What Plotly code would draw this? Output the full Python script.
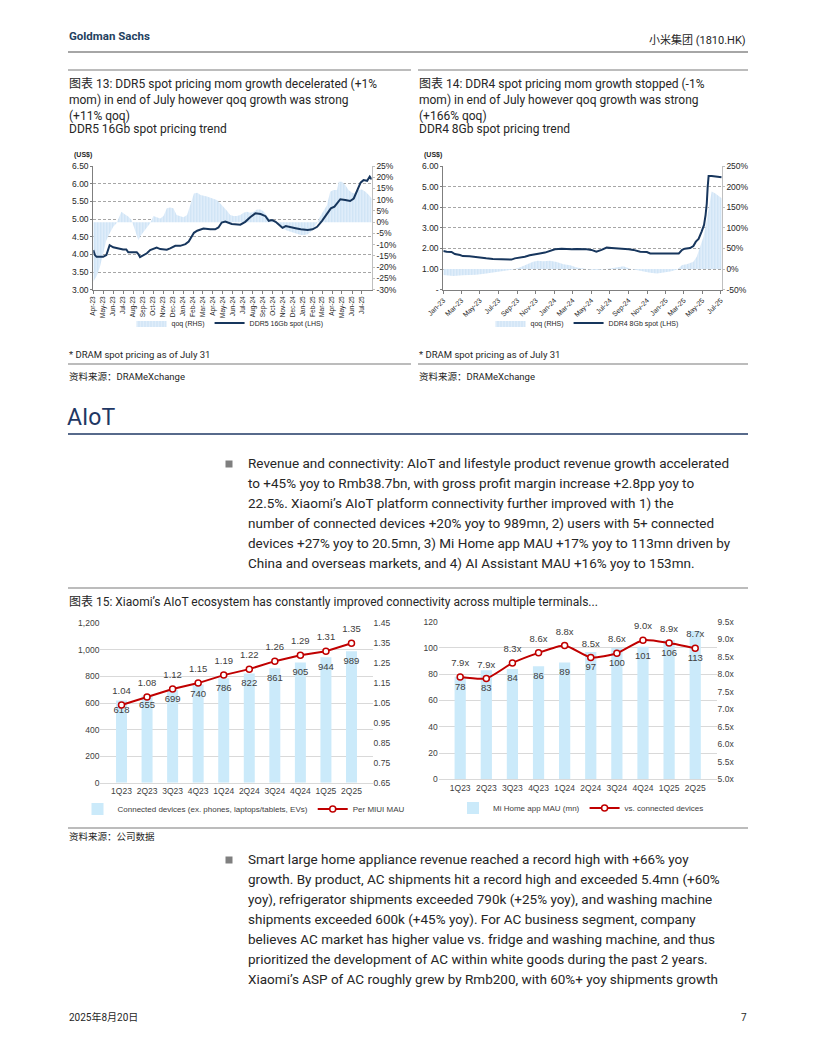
import plotly.graph_objects as go
import pandas as pd

W, H = 816, 1056


def px(x):
    return x / W


def py(y):
    return 1 - y / H


CHART_FONT = "Liberation Sans, Arial, sans-serif"
PAGE_FONT = "Roboto, Noto Sans CJK SC, sans-serif"

# ---------------- DDR5 16Gb spot (chart 13) ----------------
ddr5_tick_labels = ["Apr-23", "May-23", "Jun-23", "Jul-23", "Aug-23", "Sep-23", "Oct-23", "Nov-23",
                    "Dec-23", "Jan-24", "Feb-24", "Mar-24", "Apr-24", "May-24", "Jun-24", "Jul-24",
                    "Aug-24", "Sep-24", "Oct-24", "Nov-24", "Dec-24", "Jan-25", "Feb-25", "Mar-25",
                    "Apr-25", "May-25", "Jun-25", "Jul-25"]
ddr5_price_dates = ["2023-04-01", "2023-04-06", "2023-04-11", "2023-05-01", "2023-05-11", "2023-05-19",
                    "2023-05-21", "2023-06-01", "2023-06-16", "2023-07-01", "2023-07-11", "2023-07-17",
                    "2023-08-12", "2023-08-17", "2023-08-22", "2023-08-27", "2023-09-12", "2023-09-22",
                    "2023-10-02", "2023-10-12", "2023-10-23", "2023-11-12", "2023-11-22", "2023-12-08",
                    "2023-12-23", "2024-01-08", "2024-01-18", "2024-01-23", "2024-02-03", "2024-02-13",
                    "2024-02-23", "2024-03-03", "2024-03-24", "2024-04-08", "2024-04-18", "2024-04-28",
                    "2024-05-09", "2024-05-19", "2024-05-29", "2024-06-24", "2024-07-09", "2024-07-24",
                    "2024-08-09", "2024-08-25", "2024-09-09", "2024-09-19", "2024-09-29", "2024-10-10",
                    "2024-10-20", "2024-10-31", "2024-11-10", "2024-11-25", "2024-12-10", "2024-12-26",
                    "2025-01-16", "2025-01-31", "2025-02-14", "2025-03-01", "2025-03-16", "2025-03-28",
                    "2025-04-08", "2025-04-16", "2025-04-26", "2025-05-11", "2025-05-26", "2025-06-06",
                    "2025-06-16", "2025-06-27", "2025-07-06", "2025-07-17", "2025-07-25", "2025-07-31"]
ddr5_price = [4.12, 3.98, 3.93, 3.93, 3.98, 4.22, 4.26, 4.20, 4.16, 4.14, 4.14, 4.06,
              4.06, 4.01, 3.92, 3.95, 4.03, 4.12, 4.15, 4.19, 4.15, 4.13, 4.17, 4.24,
              4.24, 4.29, 4.36, 4.45, 4.61, 4.67, 4.71, 4.73, 4.71, 4.71, 4.76, 4.90,
              4.93, 4.90, 4.86, 4.84, 4.92, 5.05, 5.16, 5.14, 5.08, 4.95, 4.97, 4.92,
              4.83, 4.75, 4.80, 4.78, 4.74, 4.71, 4.69, 4.71, 4.78, 4.95, 5.16, 5.30,
              5.35, 5.44, 5.56, 5.54, 5.51, 5.58, 5.82, 6.03, 6.10, 6.08, 6.20, 6.12]
ddr5_qoq_dates = ["2023-04-01", "2023-04-11", "2023-04-21", "2023-05-01", "2023-05-11", "2023-05-21",
                  "2023-06-01", "2023-06-11", "2023-06-21", "2023-06-26", "2023-07-06", "2023-07-17",
                  "2023-07-27", "2023-08-03", "2023-08-12", "2023-08-17", "2023-08-22", "2023-09-01",
                  "2023-09-12", "2023-09-22", "2023-10-02", "2023-10-12", "2023-10-23", "2023-11-02",
                  "2023-11-12", "2023-11-22", "2023-12-02", "2023-12-12", "2023-12-23", "2024-01-02",
                  "2024-01-13", "2024-01-23", "2024-02-03", "2024-02-13", "2024-02-23", "2024-03-14",
                  "2024-04-03", "2024-04-13", "2024-04-23", "2024-05-04", "2024-05-14", "2024-05-24",
                  "2024-06-03", "2024-06-13", "2024-06-24", "2024-07-04", "2024-07-14", "2024-07-24",
                  "2024-08-04", "2024-08-14", "2024-08-25", "2024-09-04", "2024-09-14", "2024-09-24",
                  "2024-10-05", "2024-10-15", "2024-10-25", "2024-11-05", "2024-11-15", "2024-11-25",
                  "2024-12-05", "2024-12-16", "2024-12-26", "2025-01-05", "2025-01-16", "2025-01-26",
                  "2025-02-05", "2025-02-14", "2025-02-24", "2025-03-07", "2025-03-16", "2025-03-26",
                  "2025-04-05", "2025-04-16", "2025-04-21", "2025-05-01", "2025-05-11", "2025-05-21",
                  "2025-06-01", "2025-06-11", "2025-06-21", "2025-07-01", "2025-07-12", "2025-07-22",
                  "2025-07-31"]
ddr5_qoq = [-26.5, -24.0, -20.0, -14.0, -8.0, -5.0, -2.0, -0.5, 3.0, 4.7, 3.6, 2.5,
            1.0, -2.0, -6.4, -8.0, -6.4, -4.2, -2.3, -0.5, 2.8, 2.2, 1.7, 2.8,
            6.2, 6.5, 6.2, 3.2, 2.5, 2.2, 3.2, 7.6, 12.8, 13.1, 12.1, 11.4,
            10.6, 9.9, 8.4, 6.9, 5.1, 3.2, 2.8, 2.8, 3.2, 4.2, 4.7, 4.2,
            4.7, 5.7, 5.7, 4.7, 2.8, 1.0, 0.2, -0.5, -2.3, -3.2, -3.8, -4.2,
            -4.7, -5.3, -5.7, -5.7, -5.3, -4.2, -2.3, -0.2, 2.8, 5.4, 7.6, 13.6,
            14.3, 14.3, 18.0, 18.0, 16.5, 14.3, 13.1, 12.8, 14.3, 14.6, 13.6, 12.1,
            10.6]
ddr5_rhs_ticks = [-30, -25, -20, -15, -10, -5, 0, 5, 10, 15, 20, 25]

# ---------------- DDR4 8Gb spot (chart 14) ----------------
ddr4_tick_labels = ["Jan-23", "Mar-23", "May-23", "Jul-23", "Sep-23", "Nov-23", "Jan-24", "Mar-24",
                    "May-24", "Jul-24", "Sep-24", "Nov-24", "Jan-25", "Mar-25", "May-25", "Jul-25"]
ddr4_price_dates = ["2023-01-01", "2023-01-12", "2023-01-28", "2023-02-08", "2023-02-25", "2023-03-06",
                    "2023-03-28", "2023-04-19", "2023-04-30", "2023-05-22", "2023-06-13", "2023-07-05",
                    "2023-07-27", "2023-08-13", "2023-08-24", "2023-09-09", "2023-09-26", "2023-10-12",
                    "2023-10-29", "2023-11-14", "2023-12-01", "2023-12-17", "2024-01-03", "2024-01-25",
                    "2024-02-11", "2024-02-27", "2024-03-14", "2024-03-31", "2024-04-16", "2024-05-02",
                    "2024-05-18", "2024-06-04", "2024-06-21", "2024-07-07", "2024-07-23", "2024-08-15",
                    "2024-09-01", "2024-09-17", "2024-10-09", "2024-10-31", "2024-11-11", "2024-11-28",
                    "2024-12-14", "2025-01-05", "2025-01-27", "2025-02-13", "2025-02-24", "2025-03-05",
                    "2025-03-22", "2025-04-02", "2025-04-10", "2025-04-19", "2025-04-29", "2025-05-07",
                    "2025-05-12", "2025-05-16", "2025-05-19", "2025-05-22", "2025-06-01", "2025-06-12",
                    "2025-06-23", "2025-07-04"]
ddr4_price = [1.88, 1.84, 1.83, 1.73, 1.68, 1.63, 1.62, 1.57, 1.54, 1.52, 1.49, 1.47,
              1.46, 1.46, 1.52, 1.55, 1.60, 1.67, 1.73, 1.76, 1.80, 1.89, 1.96, 1.99,
              1.97, 1.96, 1.97, 1.97, 1.96, 1.93, 1.84, 1.93, 2.04, 2.02, 2.01, 1.99,
              1.96, 1.93, 1.84, 1.83, 1.76, 1.75, 1.75, 1.75, 1.73, 1.76, 1.93, 1.99,
              2.02, 2.12, 2.33, 2.46, 2.82, 3.14, 3.62, 4.19, 5.00, 5.52, 5.52, 5.49,
              5.49, 5.45]
ddr4_qoq_dates = ["2023-01-01", "2023-02-03", "2023-03-06", "2023-04-19", "2023-05-22", "2023-06-24",
                  "2023-07-27", "2023-08-18", "2023-09-09", "2023-10-01", "2023-10-23", "2023-11-08",
                  "2023-11-25", "2023-12-17", "2024-01-09", "2024-01-31", "2024-02-22", "2024-03-14",
                  "2024-04-05", "2024-04-27", "2024-05-18", "2024-06-10", "2024-07-02", "2024-07-23",
                  "2024-08-15", "2024-09-06", "2024-09-28", "2024-10-20", "2024-11-11", "2024-12-03",
                  "2024-12-25", "2025-01-16", "2025-02-08", "2025-02-24", "2025-03-11", "2025-04-02",
                  "2025-04-13", "2025-04-24", "2025-05-05", "2025-05-16", "2025-05-27", "2025-06-01",
                  "2025-06-12", "2025-06-23", "2025-07-04"]
ddr4_qoq = [-14.6, -17.0, -15.0, -14.0, -10.5, -7.0, -4.0, -1.0, 4.0, 12.0, 18.0, 20.0,
            19.0, 20.0, 17.0, 12.0, 9.0, 4.0, 1.0, -1.0, -2.4, -1.0, 1.6, 4.0,
            7.0, 1.0, -2.4, -5.7, -9.0, -10.5, -9.0, -5.7, -1.0, 9.7, 12.0, 18.0,
            30.0, 56.0, 78.0, 119.0, 175.0, 188.0, 184.0, 177.0, 172.0]
ddr4_rhs_ticks = [-50, 0, 50, 100, 150, 200, 250]
ddr4_lhs_ticks = [0, 1, 2, 3, 4, 5, 6]
ddr4_lhs_labels = ["-", "1.00", "2.00", "3.00", "4.00", "5.00", "6.00"]

# ---------------- Chart 15: AIoT connectivity ----------------
quarters = ["1Q23", "2Q23", "3Q23", "4Q23", "1Q24", "2Q24", "3Q24", "4Q24", "1Q25", "2Q25"]
connected_devices = [618, 655, 699, 740, 786, 822, 861, 905, 944, 989]
per_miui_mau = [1.04, 1.08, 1.12, 1.15, 1.19, 1.22, 1.26, 1.29, 1.31, 1.35]
mihome_mau = [78, 83, 84, 86, 89, 97, 100, 101, 106, 113]
vs_connected = [7.92, 7.88, 8.32, 8.61, 8.82, 8.48, 8.60, 8.97, 8.89, 8.74]

# ---------------- page text ----------------
caption13 = ["图表 13: DDR5 spot pricing mom growth decelerated (+1%",
             "mom) in end of July however qoq growth was strong",
             "(+11% qoq)"]
subtitle13 = "DDR5 16Gb spot pricing trend"
caption14 = ["图表 14: DDR4 spot pricing mom growth stopped (-1%",
             "mom) in end of July however qoq growth was strong",
             "(+166% qoq)"]
subtitle14 = "DDR4 8Gb spot pricing trend"
caption15 = "图表 15: Xiaomi’s AIoT ecosystem has constantly improved connectivity across multiple terminals..."
para1 = ["Revenue and connectivity: AIoT and lifestyle product revenue growth accelerated",
         "to +45% yoy to Rmb38.7bn, with gross profit margin increase +2.8pp yoy to",
         "22.5%. Xiaomi’s AIoT platform connectivity further improved with 1) the",
         "number of connected devices +20% yoy to 989mn, 2) users with 5+ connected",
         "devices +27% yoy to 20.5mn, 3) Mi Home app MAU +17% yoy to 113mn driven by",
         "China and overseas markets, and 4) AI Assistant MAU +16% yoy to 153mn."]
para2 = ["Smart large home appliance revenue reached a record high with +66% yoy",
         "growth. By product, AC shipments hit a record high and exceeded 5.4mn (+60%",
         "yoy), refrigerator shipments exceeded 790k (+25% yoy), and washing machine",
         "shipments exceeded 600k (+45% yoy). For AC business segment, company",
         "believes AC market has higher value vs. fridge and washing machine, and thus",
         "prioritized the development of AC within white goods during the past 2 years.",
         "Xiaomi’s ASP of AC roughly grew by Rmb200, with 60%+ yoy shipments growth"]

ddr5_ticks = [pd.to_datetime(t, format="%b-%y") for t in ddr5_tick_labels]
ddr4_ticks = [pd.to_datetime(t, format="%b-%y") for t in ddr4_tick_labels]

# right-chart bar labels sit under whichever is lower: bar top or the ratio marker
Y7_RANGE = [0, 120]
Y8_RANGE = [5.0, 9.5]
mau_label_pos = [min(b, (r - Y8_RANGE[0]) / (Y8_RANGE[1] - Y8_RANGE[0]) * (Y7_RANGE[1] - Y7_RANGE[0]))
                 for b, r in zip(mihome_mau, vs_connected)]

NAVY = "#17365d"
QOQ_PATTERN = dict(shape="|", fgcolor="#aed0ee", bgcolor="#e8f2fb", size=3, solidity=0.55)
BAR_BLUE = "#cbeafa"
RED = "#c00000"
TXT = "#404040"

fig = go.Figure()

# chart 13
fig.add_trace(go.Scatter(x=ddr5_qoq_dates, y=ddr5_qoq, xaxis="x", yaxis="y", mode="lines",
                         fill="tozeroy", line=dict(width=0, color="#bcd8f0"), fillcolor="#d6e8f7",
                         fillpattern=QOQ_PATTERN, name="qoq (RHS)", legend="legend"))
fig.add_trace(go.Scatter(x=ddr5_price_dates, y=ddr5_price, xaxis="x", yaxis="y2", mode="lines",
                         line=dict(color=NAVY, width=2), name="DDR5 16Gb spot (LHS)", legend="legend"))
# chart 14
fig.add_trace(go.Scatter(x=ddr4_qoq_dates, y=ddr4_qoq, xaxis="x2", yaxis="y3", mode="lines",
                         fill="tozeroy", line=dict(width=0, color="#bcd8f0"), fillcolor="#d6e8f7",
                         fillpattern=QOQ_PATTERN, name="qoq (RHS)", legend="legend2"))
fig.add_trace(go.Scatter(x=ddr4_price_dates, y=ddr4_price, xaxis="x2", yaxis="y4", mode="lines",
                         line=dict(color=NAVY, width=2), name="DDR4 8Gb spot (LHS)", legend="legend2"))
# chart 15 left
fig.add_trace(go.Bar(x=quarters, y=connected_devices, xaxis="x3", yaxis="y5", width=0.43,
                     marker=dict(color=BAR_BLUE, line=dict(width=0)),
                     name="Connected devices (ex. phones, laptops/tablets, EVs)", legend="legend3"))
fig.add_trace(go.Scatter(x=quarters, y=connected_devices, xaxis="x3", yaxis="y5", mode="markers+text",
                         marker=dict(size=7, color="rgba(0,0,0,0)"), text=[f"{v:d}" for v in connected_devices],
                         textposition="bottom center", textfont=dict(size=9.5, color=TXT, family=CHART_FONT),
                         showlegend=False, hoverinfo="skip"))
fig.add_trace(go.Scatter(x=quarters, y=per_miui_mau, xaxis="x3", yaxis="y6", mode="lines+markers",
                         line=dict(color=RED, width=2),
                         marker=dict(size=6, color="white", line=dict(color=RED, width=1.5)),
                         name="Per MIUI MAU", legend="legend3"))
fig.add_trace(go.Scatter(x=quarters, y=per_miui_mau, xaxis="x3", yaxis="y6", mode="markers+text",
                         marker=dict(size=12, color="rgba(0,0,0,0)"), text=[f"{v:.2f}" for v in per_miui_mau],
                         textposition="top center", textfont=dict(size=9.5, color=TXT, family=CHART_FONT),
                         showlegend=False, hoverinfo="skip"))
# chart 15 right
fig.add_trace(go.Bar(x=quarters, y=mihome_mau, xaxis="x4", yaxis="y7", width=0.43,
                     marker=dict(color=BAR_BLUE, line=dict(width=0)),
                     name="Mi Home app MAU (mn)", legend="legend4"))
fig.add_trace(go.Scatter(x=quarters, y=mau_label_pos, xaxis="x4", yaxis="y7", mode="markers+text",
                         marker=dict(size=7, color="rgba(0,0,0,0)"), text=[f"{v:d}" for v in mihome_mau],
                         textposition="bottom center", textfont=dict(size=9.5, color=TXT, family=CHART_FONT),
                         showlegend=False, hoverinfo="skip"))
fig.add_trace(go.Scatter(x=quarters, y=vs_connected, xaxis="x4", yaxis="y8", mode="lines+markers",
                         line=dict(color=RED, width=2, shape="spline", smoothing=0.6),
                         marker=dict(size=6, color="white", line=dict(color=RED, width=1.5)),
                         name="vs. connected devices", legend="legend4"))
fig.add_trace(go.Scatter(x=quarters, y=vs_connected, xaxis="x4", yaxis="y8", mode="markers+text",
                         marker=dict(size=12, color="rgba(0,0,0,0)"), text=[f"{v:.1f}x" for v in vs_connected],
                         textposition="top center", textfont=dict(size=9.5, color=TXT, family=CHART_FONT),
                         showlegend=False, hoverinfo="skip"))

# ---------------- axes ----------------
top_dom = [py(289.7), py(166)]
ax_common = dict(tickfont=dict(family=CHART_FONT, size=8.5, color="#262626"), zeroline=False)
layout_axes = dict(
    xaxis=dict(domain=[px(93.3), px(371.7)], anchor="y", type="date",
               range=["2023-04-01", "2025-07-31"], tickvals=ddr5_ticks, ticktext=ddr5_tick_labels,
               tickangle=-90, tickfont=dict(family=CHART_FONT, size=6.5, color="#262626"),
               showline=True, linecolor="#7f7f7f", linewidth=1, ticks="outside", ticklen=3,
               tickcolor="#7f7f7f", showgrid=False),
    yaxis=dict(domain=top_dom, anchor="x", side="right", range=[-30, 25],
               tickvals=ddr5_rhs_ticks, ticktext=[f"{v}%" for v in ddr5_rhs_ticks],
               showgrid=False, showline=True, linecolor="#bfbfbf", ticks="outside",
               ticklen=2, tickcolor="#bfbfbf", **ax_common),
    yaxis2=dict(overlaying="y", anchor="x", side="left", range=[3, 6.5], dtick=0.5, tickformat=".2f",
                showgrid=True, gridcolor="#a6a6a6", griddash="3px,2px", gridwidth=0.8,
                showline=True, linecolor="#7f7f7f", ticks="outside", ticklen=2, tickcolor="#7f7f7f",
                **ax_common),
    xaxis2=dict(domain=[px(443.3), px(721.7)], anchor="y3", type="date",
                range=["2023-01-01", "2025-07-04"], tickvals=ddr4_ticks, ticktext=ddr4_tick_labels,
                tickangle=-45, tickfont=dict(family=CHART_FONT, size=7, color="#262626"),
                showline=True, linecolor="#7f7f7f", linewidth=1, ticks="outside", ticklen=3,
                tickcolor="#7f7f7f", showgrid=False),
    yaxis3=dict(domain=top_dom, anchor="x2", side="right", range=[-50, 250],
                tickvals=ddr4_rhs_ticks, ticktext=[f"{v}%" for v in ddr4_rhs_ticks],
                showgrid=False, showline=True, linecolor="#bfbfbf", ticks="outside",
                ticklen=2, tickcolor="#bfbfbf", **ax_common),
    yaxis4=dict(overlaying="y3", anchor="x2", side="left", range=[0, 6],
                tickvals=ddr4_lhs_ticks, ticktext=ddr4_lhs_labels,
                showgrid=True, gridcolor="#a6a6a6", griddash="3px,2px", gridwidth=0.8,
                showline=True, linecolor="#7f7f7f", ticks="outside", ticklen=2, tickcolor="#7f7f7f",
                **ax_common),
    xaxis3=dict(domain=[px(100.4), px(372.6)], anchor="y5", type="category", showgrid=False,
                showline=True, linecolor="#d9d9d9", ticks="",
                tickfont=dict(family=CHART_FONT, size=8.5, color=TXT)),
    yaxis5=dict(domain=[py(782.7), py(623.3)], anchor="x3", range=[0, 1200], dtick=200,
                tickformat=",d", showgrid=True, gridcolor="#d9d9d9", gridwidth=0.8, showline=False,
                zeroline=False, tickfont=dict(family=CHART_FONT, size=8.5, color=TXT)),
    yaxis6=dict(overlaying="y5", anchor="x3", side="right", range=[0.65, 1.45], tick0=0.65, dtick=0.1,
                tickformat=".2f", showgrid=False, showline=False, zeroline=False,
                tickfont=dict(family=CHART_FONT, size=8.5, color=TXT)),
    xaxis4=dict(domain=[px(438.8), px(716.6)], anchor="y7", type="category", showgrid=False,
                showline=True, linecolor="#d9d9d9", ticks="",
                tickfont=dict(family=CHART_FONT, size=8.5, color=TXT)),
    yaxis7=dict(domain=[py(779.3), py(621.7)], anchor="x4", range=Y7_RANGE, dtick=20,
                showgrid=True, gridcolor="#d9d9d9", gridwidth=0.8, showline=False,
                zeroline=False, tickfont=dict(family=CHART_FONT, size=8.5, color=TXT)),
    yaxis8=dict(overlaying="y7", anchor="x4", side="right", range=Y8_RANGE, tick0=5.0, dtick=0.5,
                tickformat=".1f", ticksuffix="x", showgrid=False, showline=False, zeroline=False,
                tickfont=dict(family=CHART_FONT, size=8.5, color=TXT)),
)

leg_common = dict(orientation="h", xanchor="center", yanchor="middle", bgcolor="rgba(0,0,0,0)",
                  itemwidth=30, tracegroupgap=0)
legends = dict(
    legend=dict(x=px(230), y=py(323), font=dict(family=CHART_FONT, size=7, color="#262626"), **leg_common),
    legend2=dict(x=px(587), y=py(323), font=dict(family=CHART_FONT, size=7, color="#262626"), **leg_common),
    legend3=dict(x=px(244), y=py(809), font=dict(family=CHART_FONT, size=8, color=TXT), **leg_common),
    legend4=dict(x=px(581), y=py(808), font=dict(family=CHART_FONT, size=8, color=TXT), **leg_common),
)

# ---------------- page text & rules ----------------
annotations = []


def text(x, y, s, size, color="#262626", anchor="left", family=PAGE_FONT, weight="normal"):
    annotations.append(dict(x=px(x), y=py(y), xref="paper", yref="paper", text=s, showarrow=False,
                            xanchor=anchor, yanchor="middle", align=anchor,
                            font=dict(family=family, size=size, color=color, weight=weight)))


text(67, 36, "Goldman Sachs", 11.5, color="#243f60", weight="bold")
text(748, 40, "小米集团 (1810.HK)", 11, anchor="right")
for i, s in enumerate(caption13):
    text(67, 84 + 16 * i, s, 12)
text(67, 129, subtitle13, 12)
for i, s in enumerate(caption14):
    text(417, 84 + 16 * i, s, 12)
text(417, 129, subtitle14, 12)
text(72, 155, "(US$)", 7, family=CHART_FONT, weight="bold")
text(422, 155, "(US$)", 7, family=CHART_FONT, weight="bold")
text(67, 354, "* DRAM spot pricing as of July 31", 9.5)
text(417, 354, "* DRAM spot pricing as of July 31", 9.5)
text(67, 376, "资料来源：DRAMeXchange", 9.5)
text(417, 376, "资料来源：DRAMeXchange", 9.5)
text(65, 417, "AIoT", 23, color="#1f3864")
for i, s in enumerate(para1):
    text(246, 463 + 20 * i, s, 13.5)
text(67, 602, caption15, 12)
text(67, 836, "资料来源：公司数据", 9.5)
for i, s in enumerate(para2):
    text(246, 859 + 20 * i, s, 13.5)
text(67, 1017, "2025年8月20日", 10)
text(749, 1017, "7", 10, anchor="right")

shapes = []


def rule(x0, x1, y, color="#a6a6a6", width=1.5):
    shapes.append(dict(type="line", xref="paper", yref="paper", x0=px(x0), x1=px(x1), y0=py(y), y1=py(y),
                       line=dict(color=color, width=width)))


def bullet(x, y):
    shapes.append(dict(type="rect", xref="paper", yref="paper", x0=px(x - 3.5), x1=px(x + 3.5),
                       y0=py(y + 3.5), y1=py(y - 3.5), fillcolor="#7f7f7f", line=dict(width=0)))


rule(68, 748, 52, width=2)
rule(68, 411, 70)
rule(418, 748, 70)
rule(68, 411, 364)
rule(418, 748, 364)
rule(68, 748, 434, color="#1f3864", width=1.5)
rule(68, 748, 588)
rule(68, 748, 828)
bullet(229, 464)
bullet(229, 860)

fig.update_layout(
    width=W, height=H, autosize=False,
    margin=dict(l=0, r=0, t=0, b=0, pad=0, autoexpand=False),
    paper_bgcolor="white", plot_bgcolor="white",
    font=dict(family=CHART_FONT, color="#262626"),
    annotations=annotations, shapes=shapes,
    **layout_axes, **legends,
)

fig.write_html("out.html", config={"displayModeBar": False},
               post_script="document.body.style.margin='0px';")
